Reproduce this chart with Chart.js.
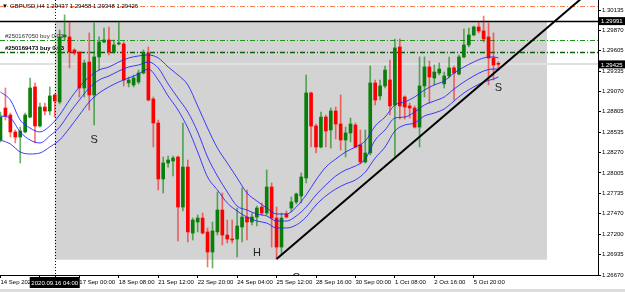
<!DOCTYPE html>
<html>
<head>
<meta charset="utf-8">
<title>GBPUSD,H4</title>
<script src="https://cdn.jsdelivr.net/npm/chart.js@4.4.1/dist/chart.umd.min.js"></script>
<style>
  html, body { margin: 0; padding: 0; background: #fff; overflow: hidden; }
  canvas { display: block; }
</style>
</head>
<body>
<canvas id="chart" width="625" height="292"></canvas>
<script>
// ── Candles (GBPUSD H4, bar 0 = 14 Sep 08:00) ─────────────
const opens = [
  1.28436, 1.28854, 1.28763, 1.28541, 1.28475, 1.28541, 1.28736, 1.29130, 1.28619, 1.28867,
  1.28815, 1.29025, 1.28933, 1.29784, 1.29784, 1.29613, 1.29587, 1.29116, 1.29456, 1.29025,
  1.29522, 1.29718, 1.29744, 1.29587, 1.29692, 1.29692, 1.29182, 1.29156, 1.29195, 1.29312,
  1.29574, 1.28972, 1.28658, 1.27926, 1.28135, 1.28161, 1.28213, 1.27559, 1.28082, 1.27219,
  1.27363, 1.27415, 1.27233, 1.26971, 1.27233, 1.27520, 1.27193, 1.27141, 1.27141, 1.27298,
  1.27428, 1.27363, 1.27428, 1.27559, 1.27481, 1.27821, 1.27415, 1.27036, 1.27468, 1.27546,
  1.27625, 1.27704, 1.27939, 1.29051, 1.28619, 1.28344, 1.28736, 1.28567, 1.28815, 1.28645,
  1.28436, 1.28528, 1.28632, 1.28371, 1.28148, 1.28266, 1.29182, 1.29012, 1.29143, 1.29221,
  1.28894, 1.29653, 1.28998, 1.28881, 1.28854, 1.28605, 1.29143, 1.29391, 1.29247, 1.29312,
  1.29169, 1.29273, 1.29378, 1.29299, 1.29522, 1.29679, 1.29810, 1.29914, 1.29862, 1.29784,
  1.29509, 1.29437
];
const highs = [
  1.28802, 1.29116, 1.28789, 1.28567, 1.28605, 1.28789, 1.29247, 1.29182, 1.28920, 1.28920,
  1.29130, 1.29038, 1.29875, 1.30071, 1.29979, 1.29626, 1.29587, 1.29482, 1.29836, 1.29966,
  1.29784, 1.29901, 1.29914, 1.29744, 1.29979, 1.29718, 1.29260, 1.29286, 1.29351, 1.29613,
  1.29653, 1.28998, 1.28697, 1.28213, 1.28227, 1.28227, 1.28227, 1.28658, 1.28174, 1.27415,
  1.27455, 1.27481, 1.27285, 1.27363, 1.27756, 1.27743, 1.27389, 1.27389, 1.27546, 1.27808,
  1.27782, 1.27481, 1.27572, 1.27612, 1.28043, 1.27874, 1.27559, 1.27481, 1.27507, 1.27690,
  1.27743, 1.28004, 1.29286, 1.29064, 1.28645, 1.28802, 1.28763, 1.28854, 1.28867, 1.29025,
  1.28605, 1.28723, 1.28658, 1.28567, 1.28567, 1.29404, 1.29221, 1.29221, 1.29404, 1.29482,
  1.29757, 1.29757, 1.29012, 1.28920, 1.28881, 1.29522, 1.29522, 1.29469, 1.29417, 1.29443,
  1.29325, 1.29522, 1.29404, 1.29548, 1.29888, 1.29901, 1.29927, 1.29979, 1.30058, 1.29966,
  1.29836, 1.29458
];
const lows = [
  1.28410, 1.28697, 1.28475, 1.28397, 1.28135, 1.28528, 1.28723, 1.28397, 1.28605, 1.28763,
  1.28763, 1.28736, 1.28907, 1.29744, 1.29378, 1.29548, 1.28998, 1.28998, 1.28828, 1.28632,
  1.29351, 1.29705, 1.29548, 1.29574, 1.29679, 1.29143, 1.29130, 1.29130, 1.29169, 1.29299,
  1.28946, 1.28344, 1.27782, 1.27743, 1.28082, 1.27965, 1.27115, 1.27507, 1.27102, 1.27128,
  1.27233, 1.27206, 1.26775, 1.26762, 1.27193, 1.27063, 1.27089, 1.27089, 1.26906, 1.27102,
  1.27128, 1.27324, 1.27311, 1.27455, 1.27455, 1.27036, 1.26879, 1.26932, 1.27415, 1.27494,
  1.27599, 1.27612, 1.27874, 1.28344, 1.28266, 1.28331, 1.28344, 1.28331, 1.28449, 1.28305,
  1.28213, 1.28410, 1.28331, 1.28122, 1.28135, 1.28240, 1.28894, 1.28959, 1.29116, 1.28763,
  1.28200, 1.28710, 1.28710, 1.28723, 1.28592, 1.28344, 1.28998, 1.28920, 1.29156, 1.29286,
  1.29116, 1.29247, 1.28959, 1.29286, 1.29509, 1.29653, 1.29797, 1.29836, 1.29718, 1.29156,
  1.29221, 1.29348
];
const closes = [
  1.28736, 1.28750, 1.28541, 1.28475, 1.28554, 1.28763, 1.29116, 1.28619, 1.28867, 1.28815,
  1.29012, 1.28946, 1.29784, 1.29810, 1.29587, 1.29574, 1.29116, 1.29443, 1.29025, 1.29522,
  1.29718, 1.29744, 1.29587, 1.29679, 1.29705, 1.29221, 1.29221, 1.29247, 1.29312, 1.29574,
  1.28959, 1.28658, 1.27926, 1.28135, 1.28174, 1.28200, 1.27559, 1.28082, 1.27233, 1.27389,
  1.27415, 1.27219, 1.26971, 1.27246, 1.27520, 1.27193, 1.27141, 1.27128, 1.27311, 1.27428,
  1.27363, 1.27428, 1.27546, 1.27481, 1.27821, 1.27415, 1.27036, 1.27415, 1.27428, 1.27625,
  1.27730, 1.27952, 1.29051, 1.28619, 1.28344, 1.28736, 1.28554, 1.28815, 1.28645, 1.28436,
  1.28528, 1.28645, 1.28344, 1.28148, 1.28266, 1.29182, 1.28959, 1.29143, 1.29351, 1.28881,
  1.29640, 1.28881, 1.28867, 1.28854, 1.28605, 1.29143, 1.29391, 1.29260, 1.29325, 1.29364,
  1.29273, 1.29378, 1.29312, 1.29522, 1.29679, 1.29810, 1.29914, 1.29862, 1.29757, 1.29509,
  1.29417, 1.29426
];

// ── Blue bands, read every second bar ─────────────────────
const bandBars = [
  0, 2, 4, 6, 8, 10, 12, 14, 16, 18, 20, 22, 24, 26, 28, 30, 32, 34, 36, 38,
  40, 42, 44, 46, 48, 50, 52, 54, 56, 58, 60, 62, 64, 66, 68, 70, 72, 74, 76, 78,
  80, 82, 84, 86, 88, 90, 92, 94, 96, 98, 100, 101
];
const bandUpper = [
  1.29064, 1.28959, 1.28697, 1.28592, 1.28541, 1.28619, 1.28763, 1.28959, 1.29130, 1.29260,
  1.29351, 1.29391, 1.29456, 1.29509, 1.29535, 1.29548, 1.29509, 1.29391, 1.29286, 1.29156,
  1.28881, 1.28592, 1.28331, 1.28135, 1.27939, 1.27743, 1.27638, 1.27546, 1.27468, 1.27468,
  1.27559, 1.27717, 1.27913, 1.28082, 1.28187, 1.28279, 1.28344, 1.28423, 1.28619, 1.28736,
  1.28894, 1.28933, 1.28998, 1.29090, 1.29156, 1.29208, 1.29312, 1.29391, 1.29456, 1.29509,
  1.29522, 1.29509
];
const bandMiddle = [
  1.28750, 1.28723, 1.28541, 1.28436, 1.28397, 1.28489, 1.28605, 1.28789, 1.28959, 1.29116,
  1.29221, 1.29273, 1.29338, 1.29391, 1.29417, 1.29456, 1.29378, 1.29169, 1.28985, 1.28802,
  1.28541, 1.28213, 1.27965, 1.27756, 1.27572, 1.27520, 1.27468, 1.27442, 1.27376, 1.27376,
  1.27442, 1.27559, 1.27717, 1.27848, 1.27965, 1.28043, 1.28096, 1.28187, 1.28436, 1.28567,
  1.28723, 1.28736, 1.28802, 1.28894, 1.28946, 1.28998, 1.29103, 1.29195, 1.29273, 1.29338,
  1.29364, 1.29364
];
const bandLower = [
  1.28436, 1.28384, 1.28279, 1.28253, 1.28266, 1.28344, 1.28436, 1.28592, 1.28763, 1.28933,
  1.29051, 1.29130, 1.29195, 1.29247, 1.29299, 1.29364, 1.29221, 1.29012, 1.28828, 1.28592,
  1.28279, 1.27952, 1.27782, 1.27612, 1.27507, 1.27428, 1.27376, 1.27350, 1.27285, 1.27285,
  1.27324, 1.27428, 1.27586, 1.27704, 1.27795, 1.27861, 1.27913, 1.28017, 1.28200, 1.28344,
  1.28554, 1.28632, 1.28658, 1.28750, 1.28789, 1.28841, 1.28946, 1.29051, 1.29130, 1.29195,
  1.29233, 1.29260
];

// ── Axes ──────────────────────────────────────────────────
const timeTickBars = [0, 8, 16, 24, 32, 40, 48, 56, 64, 72, 80, 88, 96];
const timeTickLabels = [
  '14 Sep 2020', '15 Sep 16:00', '17 Sep 00:00', '18 Sep 08:00', '21 Sep 12:00',
  '22 Sep 20:00', '24 Sep 04:00', '25 Sep 12:00', '28 Sep 16:00', '30 Sep 00:00',
  '1 Oct 08:00', '2 Oct 16:00', '5 Oct 20:00'
];
const priceTicks = [
  1.30135, 1.29870, 1.29605, 1.29335, 1.29070, 1.28805, 1.28535,
  1.28270, 1.28005, 1.27735, 1.27470, 1.27200, 1.26935, 1.26670
];

// ── Objects drawn on the chart ────────────────────────────
const symbolName = 'GBPUSD,H4';
const cursorBar = 11;
const cursorTime = '2020.09.16 04:00';
const bidPrice = 1.29425;
const resistPrice = 1.29991;
const targetPrice = 1.30195;
const orderPrices = [1.29744, 1.29587];
const orderTexts = ['#250167050 buy 0.03', '#250169473 buy 0.03'];
const zoneBars = [11, 110.85];
const zonePrices = [1.29991, 1.26870];
const trendBars = [56, 120];
const trendPrices = [1.26879, 1.30406];
const markTexts = ['S', 'H', 'S', 'C'];
const markBars = [19, 52, 101, 60];
const markPrices = [1.28436, 1.26958, 1.29116, 1.26631];

// ─────────────────────────────────────────────────────────
const FONT = "'Liberation Sans', Arial, sans-serif";
Chart.defaults.font.family = FONT;

const bodies = opens.map((o, i) => ({ x: i, y: [o, closes[i]] }));
const wicks = lows.map((l, i) => ({ x: i, y: [l, highs[i]] }));
const isUp = opens.map((o, i) => closes[i] >= o);
const band = vals => bandBars.map((b, i) => ({ x: b, y: vals[i] }));

const drawings = {
  id: 'drawings',
  beforeDatasetsDraw(chart) {
    const { ctx, chartArea: a, scales: { x, y } } = chart;
    ctx.save();
    ctx.beginPath();
    ctx.rect(a.left, a.top, a.right - a.left, a.bottom - a.top);
    ctx.clip();

    // zone rectangle
    const rl = x.getPixelForValue(zoneBars[0]), rr = x.getPixelForValue(zoneBars[1]);
    const rt = y.getPixelForValue(zonePrices[0]), rb = y.getPixelForValue(zonePrices[1]);
    ctx.fillStyle = '#d3d3d3';
    ctx.fillRect(rl, rt, rr - rl, rb - rt);

    const hline = (price, color, width, dash) => {
      const py = Math.round(y.getPixelForValue(price)) + (width % 2 ? 0.5 : 0);
      ctx.beginPath();
      ctx.setLineDash(dash);
      ctx.strokeStyle = color;
      ctx.lineWidth = width;
      ctx.moveTo(a.left, py);
      ctx.lineTo(a.right, py);
      ctx.stroke();
    };
    hline(bidPrice, '#e0e0e0', 2, []);
    hline(targetPrice, '#ff7f50', 1, [5, 2, 1, 2]);
    hline(orderPrices[0], '#1e961e', 1, [5, 2, 1, 2]);
    hline(orderPrices[1], '#0a5f0a', 1.4, [5, 2, 1, 2]);
    hline(resistPrice, '#000', 1.4, []);

    // order labels
    ctx.setLineDash([]);
    ctx.textBaseline = 'bottom';
    ctx.textAlign = 'left';
    ctx.font = '6px ' + FONT;
    ctx.fillStyle = '#333';
    ctx.fillText(orderTexts[0], 5, y.getPixelForValue(orderPrices[0]) - 1);
    ctx.font = 'bold 6px ' + FONT;
    ctx.fillStyle = '#000';
    ctx.fillText(orderTexts[1], 5, y.getPixelForValue(orderPrices[1]) - 0.5);

    // cursor line
    const cx = Math.round(x.getPixelForValue(cursorBar)) + 0.5;
    ctx.restore();
    ctx.save();
    ctx.beginPath();
    ctx.setLineDash([1, 2]);
    ctx.strokeStyle = '#000';
    ctx.lineWidth = 1;
    ctx.moveTo(cx, a.top);
    ctx.lineTo(cx, a.bottom + 6);
    ctx.stroke();
    ctx.restore();
  },
  afterDraw(chart) {
    const { ctx, chartArea: a, scales: { x, y } } = chart;
    ctx.save();

    // S / H marks
    ctx.save();
    ctx.beginPath();
    ctx.rect(a.left, a.top, a.right - a.left, a.bottom - a.top);
    ctx.clip();
    ctx.font = '11px ' + FONT;
    ctx.fillStyle = '#222';
    ctx.textAlign = 'center';
    ctx.textBaseline = 'middle';
    markTexts.forEach((t, i) => {
      ctx.fillText(t, x.getPixelForValue(markBars[i]), y.getPixelForValue(markPrices[i]));
    });
    ctx.restore();

    // title
    const last = closes.length - 1;
    ctx.font = '6px ' + FONT;
    ctx.fillStyle = '#000';
    ctx.textAlign = 'left';
    ctx.textBaseline = 'middle';
    ctx.fillText('▼', 2, 6);
    ctx.fillText(symbolName + ' ' + [opens[last], highs[last], lows[last], closes[last]]
      .map(v => v.toFixed(5)).join(' '), 10, 6);

    // price boxes on the axis
    const priceBox = price => {
      const py = y.getPixelForValue(price);
      ctx.fillStyle = '#000';
      ctx.fillRect(a.right + 1, py - 4, 26, 8);
      ctx.fillStyle = '#fff';
      ctx.fillText(price.toFixed(5), a.right + 3, py + 0.5);
    };
    priceBox(resistPrice);
    priceBox(bidPrice);

    // cursor time box
    const cx = x.getPixelForValue(cursorBar);
    ctx.fillStyle = '#000';
    ctx.fillRect(cx - 25, a.bottom + 2, 50, 11);
    ctx.fillStyle = '#fff';
    ctx.textAlign = 'center';
    ctx.fillText(cursorTime, cx, a.bottom + 8);

    // window strip at the bottom
    ctx.fillStyle = '#dcdcdc';
    ctx.fillRect(0, 289, chart.width, 3);
    ctx.restore();
  }
};

new Chart(document.getElementById('chart'), {
  type: 'bar',
  data: {
    datasets: [
      {
        type: 'line', data: trendBars.map((b, i) => ({ x: b, y: trendPrices[i] })),
        borderColor: '#000', borderWidth: 2, pointRadius: 0, order: 0
      },
      {
        type: 'line', data: band(bandUpper), borderColor: 'rgba(30,30,255,0.85)',
        borderWidth: 1, pointRadius: 0, cubicInterpolationMode: 'monotone', order: 1
      },
      {
        type: 'line', data: band(bandMiddle), borderColor: 'rgba(30,30,255,0.85)',
        borderWidth: 1, pointRadius: 0, cubicInterpolationMode: 'monotone', order: 1
      },
      {
        type: 'line', data: band(bandLower), borderColor: 'rgba(30,30,255,0.85)',
        borderWidth: 1, pointRadius: 0, cubicInterpolationMode: 'monotone', order: 1
      },
      {
        data: bodies, backgroundColor: isUp.map(u => u ? '#0a7d0a' : '#ff0000'),
        barThickness: 3, grouped: false, minBarLength: 1, order: 2
      },
      {
        data: wicks, backgroundColor: isUp.map(u => u ? 'rgba(0,128,0,0.6)' : 'rgba(255,0,0,0.55)'),
        barThickness: 1, grouped: false, order: 3
      }
    ]
  },
  options: {
    responsive: false,
    animation: false,
    devicePixelRatio: 1,
    layout: { padding: 0 },
    plugins: { legend: { display: false }, tooltip: { enabled: false } },
    scales: {
      x: {
        type: 'linear', min: -0.1, max: 121.2, offset: false,
        border: { display: true, color: '#000', width: 1 },
        grid: { offset: false, drawOnChartArea: false, drawTicks: true, tickLength: 3, color: '#000' },
        afterBuildTicks: s => { s.ticks = timeTickBars.map(v => ({ value: v })); },
        afterFit: s => { s.height = 17; s.paddingLeft = 0; s.paddingRight = 0; },
        ticks: {
          autoSkip: false, maxRotation: 0, minRotation: 0, align: 'start', padding: 1,
          color: '#000', font: { size: 6 },
          callback: (v, i) => timeTickLabels[i]
        }
      },
      y: {
        type: 'linear', position: 'right', min: 1.2667, max: 1.30267,
        border: { display: true, color: '#000', width: 1 },
        grid: { drawOnChartArea: false, drawTicks: true, tickLength: 3, color: '#000' },
        afterBuildTicks: s => { s.ticks = priceTicks.map(v => ({ value: v })); },
        afterFit: s => { s.width = 27; s.paddingTop = 0; s.paddingBottom = 0; },
        ticks: {
          padding: 1, color: '#000', font: { size: 6 },
          callback: v => v.toFixed(5)
        }
      }
    }
  },
  plugins: [drawings]
});
</script>
</body>
</html>
